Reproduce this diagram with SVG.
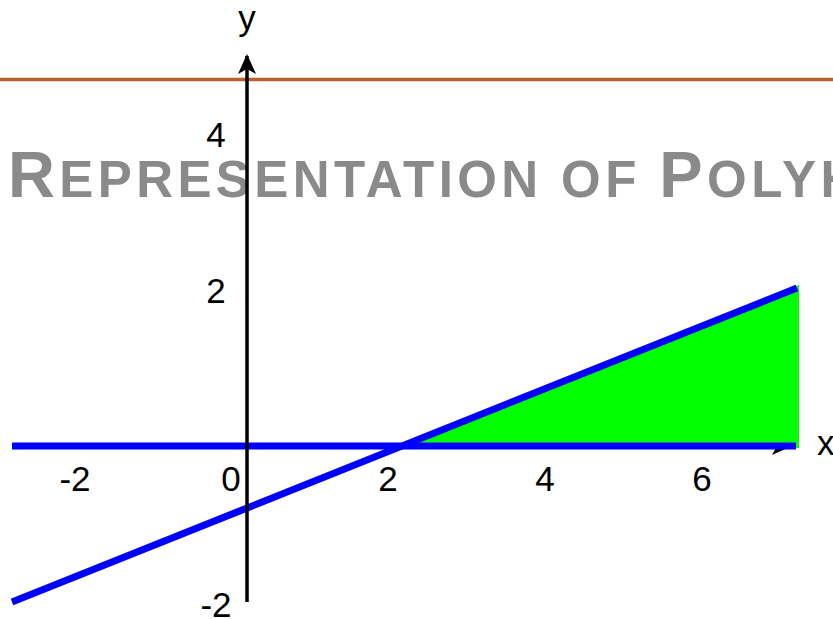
<svg xmlns="http://www.w3.org/2000/svg" width="833" height="619" viewBox="0 0 833 619">
<style>
.lbl{font-family:"Liberation Sans",Arial,sans-serif;font-size:35px;fill:#000}
.ttl{font-family:"Liberation Sans",Arial,sans-serif;font-weight:bold;fill:#8a8a8a;letter-spacing:4.4px}
.blue{stroke:#0000ff;stroke-width:7;fill:none}
.axis{stroke:#000;stroke-width:3.5;fill:none}
</style>
<defs>
<marker id="arr" viewBox="0 0 20 20" refX="18" refY="10" markerWidth="20" markerHeight="20" markerUnits="userSpaceOnUse" orient="auto">
<path d="M0,1 L20,10 L0,19 L5,10 Z" fill="#000"/>
</marker>
</defs>
<line x1="0" y1="79.5" x2="833" y2="79.5" stroke="#b8612f" stroke-width="3.5"/>
<text class="ttl" x="8" y="197"><tspan font-size="65">R</tspan><tspan font-size="51">EPRESENTATION OF </tspan><tspan font-size="65">P</tspan><tspan font-size="51">OLYHEDRA</tspan></text>
<g id="x-axis">
<line class="axis" x1="12" y1="446" x2="790" y2="446" stroke-width="2.5" marker-end="url(#arr)"/>
<text class="lbl" x="817" y="455">x</text>
</g>
<g id="region">
<polygon points="403,446 799,285 799,448 403,448" fill="#00ff00"/>
</g>
<g id="constraints">
<line class="blue" x1="12" y1="446" x2="796" y2="446"/>
<line class="blue" x1="12" y1="602" x2="797" y2="288"/>
</g>
<g id="y-axis">
<line class="axis" x1="247" y1="602" x2="247" y2="56" marker-end="url(#arr)"/>
<text class="lbl" x="247" y="30" text-anchor="middle">y</text>
</g>
<g id="ticks">
<text class="lbl" x="75" y="491" text-anchor="middle">-2</text>
<text class="lbl" x="231" y="491" text-anchor="middle">0</text>
<text class="lbl" x="388" y="491" text-anchor="middle">2</text>
<text class="lbl" x="545" y="491" text-anchor="middle">4</text>
<text class="lbl" x="702" y="491" text-anchor="middle">6</text>
<text class="lbl" x="216" y="617" text-anchor="middle">-2</text>
<text class="lbl" x="216" y="303" text-anchor="middle">2</text>
<text class="lbl" x="216" y="147" text-anchor="middle">4</text>
</g>
</svg>
